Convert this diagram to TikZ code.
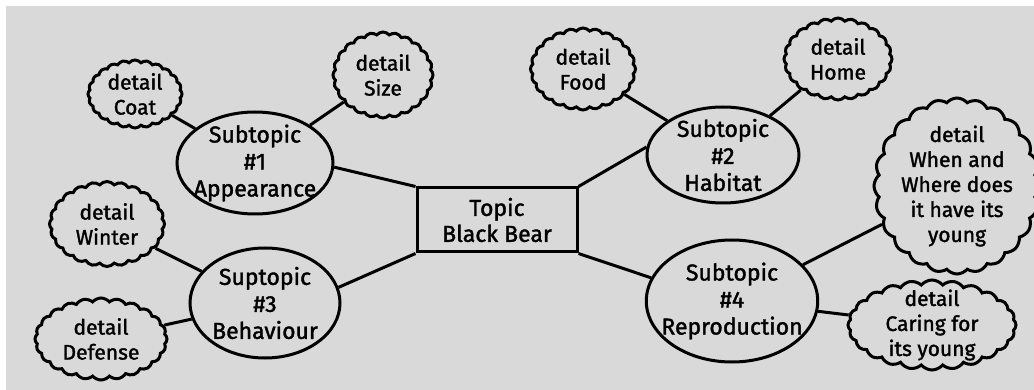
\documentclass[tikz,border=0pt]{standalone}
\usepackage{fontspec}
\setmainfont{Fira Sans}[FakeBold=1.6]
\usetikzlibrary{shapes}
\definecolor{paper}{RGB}{217,217,217}

\begin{document}
\begin{tikzpicture}[x=1pt, y=-1pt, line width=3pt,
    subtopic/.style={draw, ellipse, inner sep=-10pt, align=center, font=\fontsize{23}{27}\selectfont},
    detail/.style={draw, cloud, cloud puffs=24, cloud puff arc=100, cloud ignores aspect, inner sep=-16pt, align=center, font=\fontsize{21}{25}\selectfont}]
    \useasboundingbox (0,0) rectangle (1034,390);
    \fill[paper] (6,6) rectangle (1034,390);

    \node[draw, rectangle, minimum width=160, minimum height=64, align=center, font=\fontsize{23}{26}\selectfont](topic) at (497,220){Topic\\Black Bear};

    \node[subtopic, minimum width=156, minimum height=102](appearance) at (255,163){Subtopic\\\#1\\Appearance};
    \node[subtopic, minimum width=152, minimum height=96](habitat) at (723,155){Subtopic\\\#2\\Habitat};
    \node[subtopic, minimum width=150, minimum height=110](behaviour) at (265,303){Suptopic\\\#3\\Behaviour};
    \node[subtopic, minimum width=168, minimum height=122](reproduction) at (732,301){Subtopic\\\#4\\Reproduction};
    \draw(topic.north west)--(appearance.-3);
    \draw(topic.south west)--(behaviour.12);
    \draw(topic.north east)--(habitat.174);
    \draw(topic.south east)--(reproduction.164);

    \node[detail, minimum width=94, minimum height=68](coat) at (135,94){detail\\Coat};
    \node[detail, minimum width=100, minimum height=86](size) at (383,75){detail\\Size};
    \node[detail, minimum width=115, minimum height=85](winter) at (107,224){detail\\Winter};
    \node[detail, minimum width=132, minimum height=82](defense) at (101,339){detail\\Defense};
    \draw(coat)--(appearance);
    \draw(size)--(appearance);
    \draw(winter)--(behaviour);
    \draw(defense)--(behaviour);

    \node[detail, minimum width=105, minimum height=82](food) at (583,69){detail\\Food};
    \node[detail, minimum width=108, minimum height=82](home) at (838,59){detail\\Home};
    \node[detail, minimum width=166, minimum height=176](young) at (957,186){detail\\When and\\Where does\\it have its\\young};
    \node[detail, minimum width=168, minimum height=90](caring) at (932,325){detail\\Caring for\\its young};
    \draw(food)--(habitat);
    \draw(home)--(habitat);
    \draw(young)--(reproduction);
    \draw(caring)--(reproduction);
\end{tikzpicture}
\end{document}
